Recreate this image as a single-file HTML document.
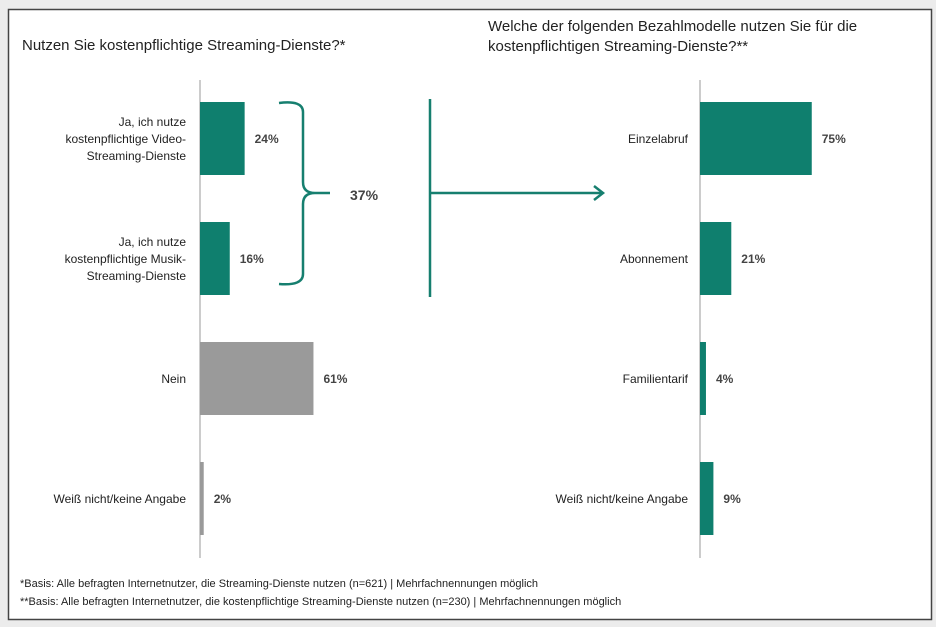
<!DOCTYPE html>
<html><head><meta charset="utf-8"><style>
body{margin:0;background:#fff;}
svg{display:block;font-family:"Liberation Sans",Arial,sans-serif;}
</style></head><body>
<svg id="c" width="936" height="627" viewBox="0 0 936 627">
<rect x="0" y="0" width="936" height="627" fill="#ececec"/>
<rect x="8.5" y="9.5" width="923" height="610" fill="#fff" stroke="#444" stroke-width="1.5"/>
<text x="22" y="50" font-size="15" fill="#222">Nutzen Sie kostenpflichtige Streaming-Dienste?*</text>
<text x="488" y="31" font-size="15" fill="#222">Welche der folgenden Bezahlmodelle nutzen Sie für die</text>
<text x="488" y="51" font-size="15" fill="#222">kostenpflichtigen Streaming-Dienste?**</text>
<line x1="200" y1="80" x2="200" y2="558" stroke="#999" stroke-width="1"/>
<line x1="700" y1="80" x2="700" y2="558" stroke="#999" stroke-width="1"/>
<g id="left"></g>
<g id="right"></g>
<path d="M279,103 Q303,100 303,112 L303,182 Q303,193 315,193 L330,193 M303,204 Q303,193 315,193 M303,204 L303,274 Q303,286 279,284" fill="none" stroke="#167f6f" stroke-width="2.5"/>
<text x="350" y="200" font-size="14" font-weight="bold" fill="#444">37%</text>
<line x1="430" y1="99" x2="430" y2="297" stroke="#167f6f" stroke-width="2.5"/>
<line x1="430" y1="193" x2="602" y2="193" stroke="#167f6f" stroke-width="2.5"/>
<path d="M594,186 L603,193 L594,200" fill="none" stroke="#167f6f" stroke-width="2.5"/>
<text x="20" y="587" font-size="11" fill="#222">*Basis: Alle befragten Internetnutzer, die Streaming-Dienste nutzen (n=621) | Mehrfachnennungen möglich</text>
<text x="20" y="605" font-size="11" fill="#222">**Basis: Alle befragten Internetnutzer, die kostenpflichtige Streaming-Dienste nutzen (n=230) | Mehrfachnennungen möglich</text>
</svg>
<script>
const leftCategories=[["Ja, ich nutze","kostenpflichtige Video-","Streaming-Dienste"],["Ja, ich nutze","kostenpflichtige Musik-","Streaming-Dienste"],["Nein"],["Weiß nicht/keine Angabe"]];
const leftValues=[24,16,61,2];
const leftColors=["#0f7f6e","#0f7f6e","#9a9a9a","#9a9a9a"];
const rightCategories=[["Einzelabruf"],["Abonnement"],["Familientarif"],["Weiß nicht/keine Angabe"]];
const rightValues=[75,21,4,9];
const NS="http://www.w3.org/2000/svg";
function xL(v){return 200+v*1.86;}
function xR(v){return 700+v*1.49;}
function yBand(i){return 102+i*120;}
function draw(gid,cats,vals,xf,x0,labelX,colors){
  const g=document.getElementById(gid);
  vals.forEach((v,i)=>{
    const y=yBand(i);
    const r=document.createElementNS(NS,'rect');
    
    
    r.setAttribute('x',x0);r.setAttribute('y',y);
    r.setAttribute('width',Math.max(xf(v)-x0,0));r.setAttribute('height',73);
    r.setAttribute('fill',colors?colors[i]:"#0f7f6e");
    g.appendChild(r);
    const t=document.createElementNS(NS,'text');
    
    
    t.setAttribute('x',xf(v)+10);t.setAttribute('y',y+41);
    t.setAttribute('font-size','12');t.setAttribute('font-weight','bold');t.setAttribute('fill','#444');
    t.textContent=v+'%';g.appendChild(t);
    const lines=cats[i];
    lines.forEach((ln,j)=>{
      const c=document.createElementNS(NS,'text');
      
      
      c.setAttribute('x',labelX);
      c.setAttribute('y',y+41+(j-(lines.length-1)/2)*17);
      c.setAttribute('font-size','12');c.setAttribute('fill','#222');c.setAttribute('text-anchor','end');
      c.textContent=ln;g.appendChild(c);
    });
  });
}
draw('left',leftCategories,leftValues,xL,200,186,leftColors);
draw('right',rightCategories,rightValues,xR,700,688,null);
</script>
</body></html>
